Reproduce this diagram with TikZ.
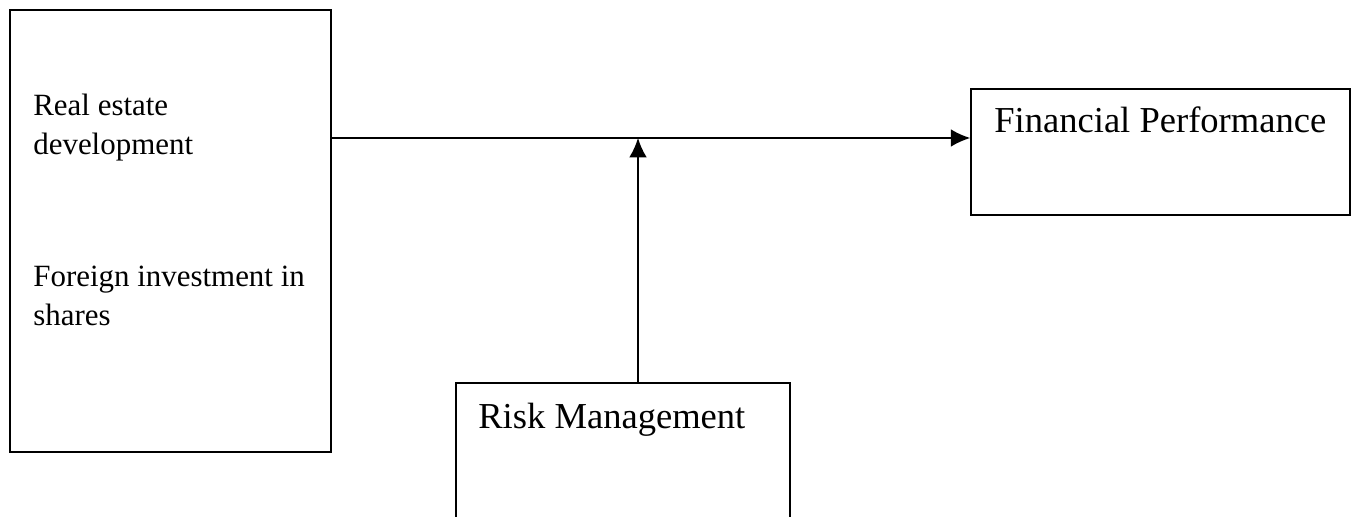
\documentclass[tikz,border=0pt]{standalone}
\usepackage{fontspec}
\setmainfont{Liberation Serif}
\usepackage{tikz}
\usetikzlibrary{arrows.meta, positioning, calc}

\begin{document}
\begin{tikzpicture}[
    varbox/.style={draw, line width=0.9pt, inner sep=0pt},
    lbl/.style={inner sep=0pt, anchor=base west, align=left},
    arr/.style={-{Latex[length=11pt, width=10pt]}, line width=0.9pt},
]
    \useasboundingbox (0,0) rectangle (27.1,-10.34);

    \node[varbox, minimum width=6.42cm, minimum height=8.84cm] (inputs) at (3.41,-4.62) {};
    \node[varbox, minimum width=7.58cm, minimum height=2.52cm] (perf) at (23.21,-3.04) {};
    \node[varbox, minimum width=6.68cm, minimum height=3.14cm] (risk) at (12.46,-9.23) {};

    \node[lbl, font=\fontsize{17.6}{22.7}\selectfont] (realest) at (0.66,-3.1) {Real estate\\development};
    \node[lbl, font=\fontsize{17.6}{22.7}\selectfont] (foreign) at (0.66,-6.52) {Foreign investment in\\shares};
    \node[lbl, font=\fontsize{20.8}{25}\selectfont] (perftxt) at (19.88,-2.66) {Financial Performance};
    \node[lbl, font=\fontsize{20.8}{25}\selectfont] (risktxt) at (9.56,-8.56) {Risk Management};

    \coordinate (join) at (12.76,-2.76);

    \draw[arr] (inputs.east |- join) -- (perf.west |- join);
    \draw[arr] (risk.north -| join) -- (join);
\end{tikzpicture}
\end{document}
